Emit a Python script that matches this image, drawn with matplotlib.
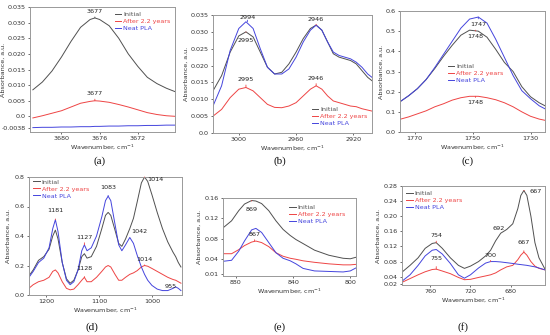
import matplotlib
matplotlib.use("Agg")
import matplotlib.pyplot as plt

# ---------------- data ----------------
# (a) 3677 region
a_wn = [3683, 3682, 3681, 3680, 3679, 3678, 3677, 3676.5, 3676, 3675, 3674, 3673, 3672, 3671, 3670, 3669, 3668]
a_init = [0.0085, 0.011, 0.0145, 0.019, 0.024, 0.0285, 0.031, 0.0315, 0.031, 0.029, 0.025, 0.020, 0.016, 0.0125, 0.0105, 0.009, 0.0078]
a_after = [-0.0005, 0.0002, 0.001, 0.0018, 0.003, 0.0042, 0.0048, 0.005, 0.0049, 0.0045, 0.0038, 0.003, 0.0021, 0.0012, 0.0006, 0.0002, 0.0]
a_neat = [-0.0036, -0.0035, -0.0035, -0.0034, -0.0034, -0.0033, -0.0033, -0.0032, -0.0032, -0.0031, -0.0031, -0.003, -0.003, -0.0029, -0.0029, -0.0028, -0.0028]

# (b) 2995 / 2946 region
b_wn = [3018, 3012, 3006, 3000, 2995, 2990, 2985, 2980, 2975, 2970, 2965, 2960, 2955, 2950, 2946, 2942, 2938, 2934, 2930, 2926, 2922, 2918, 2914, 2910, 2907]
b_init = [0.0125, 0.017, 0.024, 0.0288, 0.030, 0.0285, 0.024, 0.0195, 0.0175, 0.018, 0.0205, 0.024, 0.028, 0.031, 0.032, 0.0305, 0.027, 0.0235, 0.0225, 0.022, 0.0215, 0.0205, 0.0185, 0.0165, 0.0155]
b_after = [0.005, 0.007, 0.0105, 0.013, 0.0135, 0.0125, 0.0105, 0.0085, 0.0076, 0.0075, 0.008, 0.009, 0.011, 0.013, 0.014, 0.013, 0.011, 0.0095, 0.009, 0.0085, 0.008, 0.0078, 0.0072, 0.0068, 0.0065]
b_neat = [0.008, 0.014, 0.0245, 0.031, 0.033, 0.031, 0.025, 0.0195, 0.0175, 0.0175, 0.019, 0.0225, 0.027, 0.0305, 0.032, 0.0305, 0.027, 0.024, 0.023, 0.0225, 0.022, 0.021, 0.0195, 0.0175, 0.0165]

# (c) carbonyl region
c_wn = [1775, 1772, 1769, 1766, 1763, 1760, 1757, 1754, 1751, 1748, 1745, 1742, 1739, 1736, 1733, 1730, 1727, 1725]
c_init = [0.15, 0.18, 0.215, 0.26, 0.315, 0.375, 0.43, 0.48, 0.505, 0.50, 0.47, 0.41, 0.345, 0.30, 0.225, 0.175, 0.145, 0.13]
c_after = [0.063, 0.075, 0.09, 0.105, 0.125, 0.14, 0.158, 0.17, 0.177, 0.177, 0.17, 0.16, 0.145, 0.125, 0.10, 0.078, 0.064, 0.058]
c_neat = [0.15, 0.18, 0.215, 0.26, 0.32, 0.385, 0.45, 0.515, 0.56, 0.57, 0.54, 0.46, 0.37, 0.28, 0.205, 0.165, 0.13, 0.115]

# (d) fingerprint region
d_wn = [1235, 1225, 1215, 1205, 1195, 1188, 1183, 1178, 1170, 1162, 1155, 1148, 1140, 1133, 1128, 1123, 1115, 1105, 1095, 1088,
        1083, 1078, 1070, 1063, 1057, 1050, 1042, 1035, 1028, 1020, 1014, 1008, 1000, 990, 980, 970, 960, 955, 950, 945]
d_init = [0.12, 0.17, 0.235, 0.26, 0.31, 0.40, 0.44, 0.38, 0.22, 0.11, 0.08, 0.10, 0.17, 0.26, 0.28, 0.25, 0.26, 0.33, 0.45, 0.54,
          0.56, 0.54, 0.44, 0.35, 0.33, 0.38, 0.45, 0.52, 0.63, 0.76, 0.80, 0.77, 0.68, 0.56, 0.45, 0.36, 0.29, 0.26, 0.22, 0.19]
d_after = [0.04, 0.07, 0.09, 0.10, 0.12, 0.16, 0.17, 0.15, 0.09, 0.045, 0.035, 0.04, 0.07, 0.10, 0.12, 0.09, 0.09, 0.12, 0.16, 0.19,
           0.20, 0.19, 0.14, 0.10, 0.10, 0.12, 0.14, 0.15, 0.165, 0.19, 0.20, 0.195, 0.18, 0.16, 0.14, 0.12, 0.105, 0.10, 0.09, 0.08]
d_neat = [0.11, 0.16, 0.22, 0.25, 0.32, 0.45, 0.51, 0.43, 0.22, 0.10, 0.07, 0.09, 0.17, 0.30, 0.34, 0.30, 0.32, 0.40, 0.53, 0.64,
          0.67, 0.64, 0.48, 0.34, 0.30, 0.34, 0.39, 0.35, 0.27, 0.19, 0.14, 0.10, 0.065, 0.04, 0.03, 0.03, 0.045, 0.055, 0.045, 0.03]

# (e) 869 region
e_wn = [889, 883, 878, 874, 869, 866, 862, 857, 852, 847, 842, 838, 833, 825, 815, 805, 800, 796]
e_init = [0.101, 0.115, 0.135, 0.148, 0.155, 0.154, 0.149, 0.135, 0.115, 0.098, 0.086, 0.078, 0.07, 0.057, 0.047, 0.041, 0.040, 0.043]
e_after = [0.05, 0.05, 0.058, 0.066, 0.073, 0.075, 0.072, 0.064, 0.052, 0.045, 0.041, 0.039, 0.036, 0.033, 0.030, 0.028, 0.028, 0.029]
e_neat = [0.035, 0.037, 0.055, 0.075, 0.097, 0.100, 0.092, 0.072, 0.052, 0.041, 0.036, 0.030, 0.021, 0.016, 0.015, 0.014, 0.016, 0.022]

# (f) 754 / 667 region
f_wn = [788, 780, 772, 765, 758, 754, 748, 740, 732, 726, 720, 712, 705, 700, 695, 690, 684, 678, 673, 670, 667, 664, 660, 656, 652, 646]
f_init = [0.052, 0.07, 0.09, 0.115, 0.128, 0.13, 0.115, 0.09, 0.07, 0.062, 0.068, 0.08, 0.095, 0.11, 0.135, 0.155, 0.165, 0.18, 0.22, 0.255,
          0.268, 0.255, 0.20, 0.13, 0.09, 0.06]
f_after = [0.025, 0.035, 0.045, 0.053, 0.059, 0.06, 0.055, 0.048, 0.038, 0.032, 0.033, 0.038, 0.042, 0.045, 0.05, 0.058, 0.066, 0.07, 0.085,
           0.097, 0.105, 0.097, 0.08, 0.068, 0.062, 0.058]
f_neat = [0.028, 0.045, 0.07, 0.095, 0.11, 0.112, 0.10, 0.075, 0.045, 0.036, 0.045, 0.063, 0.076, 0.08, 0.08, 0.079, 0.077, 0.075, 0.073,
          0.072, 0.071, 0.07, 0.068, 0.066, 0.063, 0.058]

series_names = ["Initial", "After 2.2 years", "Neat PLA"]
panel_letters = ["(a)", "(b)", "(c)", "(d)", "(e)", "(f)"]

# ---------------- style ----------------
C_INIT = "#505050"
C_AFTER = "#ee4444"
C_NEAT = "#4444dd"
colors = [C_INIT, C_AFTER, C_NEAT]

W, H = 550, 335
fig = plt.figure(figsize=(W / 100, H / 100), dpi=100)

def make_ax(x0, y0, x1, y1):
    return fig.add_axes([x0 / W, 1 - y1 / H, (x1 - x0) / W, (y1 - y0) / H])

FS = 4.6

def style(ax, xlim, ylim, xt, yt, ytl, ylab_x):
    ax.set_xlim(*xlim)
    ax.set_ylim(*ylim)
    ax.set_xticks(xt)
    ax.set_yticks(yt)
    ax.set_yticklabels(ytl)
    ax.tick_params(labelsize=FS, length=1.5, width=0.5, pad=1.5, colors="#333333")
    for s in ax.spines.values():
        s.set_color("#999999")
        s.set_linewidth(0.7)
    ax.set_xlabel("Wavenumber, cm$^{-1}$", fontsize=FS, labelpad=1, color="#333333")
    ax.set_ylabel("Absorbance, a.u.", fontsize=FS, color="#333333")
    ax.yaxis.set_label_coords(ylab_x, 0.5)

def plot3(ax, wn, ys):
    for y, c, n in zip(ys, colors, series_names):
        ax.plot(wn, y, color=c, lw=0.7, label=n)

def leg(ax, **kw):
    lg = ax.legend(fontsize=FS, frameon=False, handlelength=1.0, handletextpad=0.3,
                   labelspacing=0.25, borderpad=0.2, **kw)
    for t, c in zip(lg.get_texts(), colors):
        t.set_color(c)
    return lg

def mark(ax, txt, xy, xytext, color):
    ax.annotate(txt, xy=xy, xytext=xytext, fontsize=FS, ha="center", va="center", color="#222222",
                arrowprops=dict(arrowstyle="-", color=color, lw=0.6, shrinkA=2, shrinkB=0))

# (a)
ax = make_ax(30, 7, 175, 132)
plot3(ax, a_wn, [a_init, a_after, a_neat])
style(ax, (3683.3, 3668.1), (-0.005, 0.035), [3680, 3676, 3672],
      [-0.0038, 0.0, 0.005, 0.010, 0.015, 0.020, 0.025, 0.030, 0.035],
      ["-0.0038", "0.0", "0.005", "0.010", "0.015", "0.020", "0.025", "0.030", "0.035"], -0.165)
mark(ax, "3677", (3676.5, 0.0315), (3676.5, 0.0335), C_INIT)
mark(ax, "3677", (3676.5, 0.005), (3676.5, 0.0072), C_AFTER)
leg(ax, loc="upper right", bbox_to_anchor=(1.0, 1.0))

# (b)
ax = make_ax(213, 15, 372, 133)
plot3(ax, b_wn, [b_init, b_after, b_neat])
style(ax, (3018, 2907), (0.0, 0.035), [3000, 2960, 2920],
      [0.0, 0.005, 0.010, 0.015, 0.020, 0.025, 0.030, 0.035],
      ["0.0", "0.005", "0.010", "0.015", "0.020", "0.025", "0.030", "0.035"], -0.15)
mark(ax, "2994", (2994, 0.033), (2994, 0.0343), C_NEAT)
mark(ax, "2995", (2995, 0.030), (2995, 0.0275), C_AFTER)
mark(ax, "2946", (2946, 0.032), (2946, 0.0338), C_AFTER)
mark(ax, "2995", (2995, 0.0135), (2995, 0.0158), C_AFTER)
mark(ax, "2946", (2946, 0.014), (2946, 0.0162), C_AFTER)
leg(ax, loc="lower right", bbox_to_anchor=(1.0, 0.02))

# (c)
ax = make_ax(400, 11, 545, 132)
plot3(ax, c_wn, [c_init, c_after, c_neat])
style(ax, (1775, 1725), (0.0, 0.6), [1770, 1750, 1730],
      [0.0, 0.1, 0.2, 0.3, 0.4, 0.5, 0.6],
      ["0.0", "0.1", "0.2", "0.3", "0.4", "0.5", "0.6"], -0.11)
mark(ax, "1747", (1748, 0.57), (1748, 0.535), C_NEAT)
mark(ax, "1748", (1749, 0.505), (1749, 0.475), C_AFTER)
mark(ax, "1748", (1749, 0.177), (1749, 0.145), C_AFTER)
leg(ax, loc="upper left", bbox_to_anchor=(0.3, 0.6))

# (d)
ax = make_ax(29, 177, 182, 295)
plot3(ax, d_wn, [d_init, d_after, d_neat])
style(ax, (1233, 943), (0.0, 0.8), [1200, 1100, 1000],
      [0.0, 0.2, 0.4, 0.6, 0.8], ["0.0", "0.2", "0.4", "0.6", "0.8"], -0.12)
mark(ax, "1181", (1183, 0.51), (1183, 0.57), C_AFTER)
mark(ax, "1127", (1128, 0.34), (1128, 0.39), C_AFTER)
mark(ax, "1128", (1128, 0.12), (1128, 0.18), C_AFTER)
mark(ax, "1083", (1083, 0.67), (1083, 0.73), C_NEAT)
ax.text(1040, 0.43, "1042", fontsize=FS, ha="left", va="center", color="#222222")
mark(ax, "1014", (1014, 0.80), (993, 0.78), C_AFTER)
mark(ax, "1014", (1014, 0.20), (1014, 0.24), C_AFTER)
ax.text(965, 0.06, "955", fontsize=FS, ha="center", va="center", color="#222222")
leg(ax, loc="upper left", bbox_to_anchor=(0.0, 1.02))

# (e)
ax = make_ax(223, 198, 356, 276)
plot3(ax, e_wn, [e_init, e_after, e_neat])
style(ax, (889, 796), (0.006, 0.16), [880, 840, 800],
      [0.01, 0.04, 0.08, 0.12, 0.16], ["0.01", "0.04", "0.08", "0.12", "0.16"], -0.16)
mark(ax, "869", (869, 0.155), (869, 0.138), C_AFTER)
mark(ax, "867", (867, 0.075), (867, 0.088), C_AFTER)
leg(ax, loc="upper right", bbox_to_anchor=(0.95, 0.97))

# (f)
ax = make_ax(402, 186, 545, 285)
plot3(ax, f_wn, [f_init, f_after, f_neat])
style(ax, (788, 646), (0.018, 0.28), [760, 720, 680],
      [0.02, 0.04, 0.08, 0.12, 0.16, 0.20, 0.24, 0.28],
      ["0.02", "0.04", "0.08", "0.12", "0.16", "0.20", "0.24", "0.28"], -0.15)
mark(ax, "754", (754, 0.13), (754, 0.148), C_AFTER)
mark(ax, "755", (754, 0.06), (754, 0.088), C_AFTER)
ax.text(692, 0.16, "692", fontsize=FS, ha="center", va="bottom", color="#222222")
mark(ax, "700", (700, 0.08), (700, 0.097), C_AFTER)
mark(ax, "667", (667, 0.268), (655, 0.265), C_AFTER)
mark(ax, "667", (667, 0.105), (667, 0.13), C_AFTER)
leg(ax, loc="upper left", bbox_to_anchor=(0.0, 1.0))

# panel letters
for txt, (px, py) in zip(panel_letters, [(100, 161), (280, 161), (468, 161), (92, 327), (280, 327), (463, 327)]):
    fig.text(px / W, 1 - py / H, txt, fontsize=8, family="Liberation Serif", ha="center", va="center", color="#111111")

fig.savefig("out.png", dpi=100)
